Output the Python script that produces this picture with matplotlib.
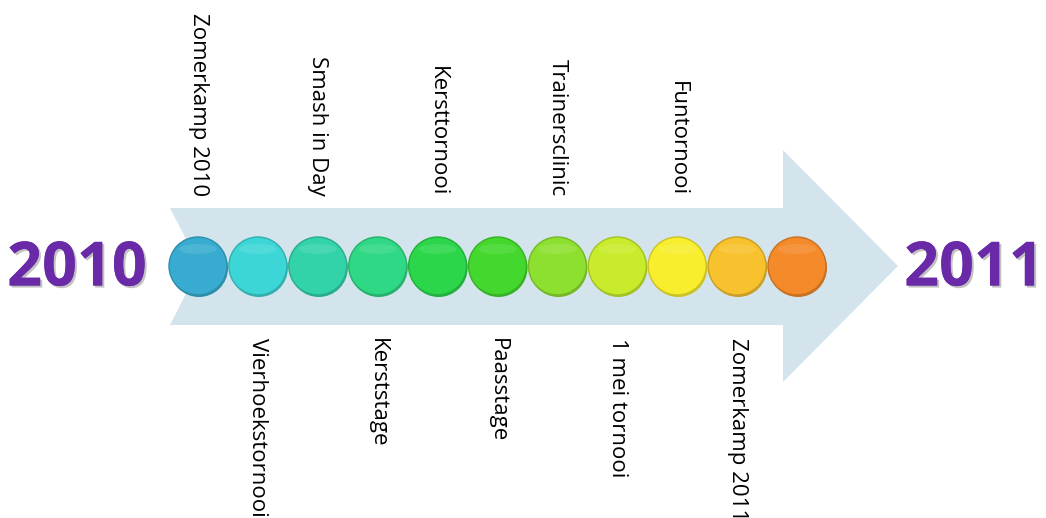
import matplotlib.pyplot as plt
import matplotlib.patheffects as pe
from matplotlib.patches import Polygon, Circle, Ellipse
import matplotlib.colors as mcolors

# =========================
# DATA
# =========================
events = ["Zomerkamp 2010", "Vierhoekstornooi", "Smash in Day", "Kerststage",
          "Kersttornooi", "Paasstage", "Trainersclinic", "1 mei tornooi",
          "Funtornooi", "Zomerkamp 2011", ""]
colors = ["#38acd0", "#3dd6d6", "#33d3aa", "#2fd884", "#2bd64a", "#44d82e",
          "#8ee030", "#c8ec2c", "#f8ee2e", "#f8c22e", "#f58a2a"]
start_year = "2010"
end_year = "2011"

# =========================
# LAYOUT
# =========================
W, H = 1046, 518
cy = 266
x0, step, r = 198, 59.9, 29

fig = plt.figure(figsize=(W / 100, H / 100), dpi=100)
ax = fig.add_axes([0, 0, 1, 1])
ax.set_xlim(0, W)
ax.set_ylim(H, 0)
ax.axis("off")

# arrow (notched tail)
arrow = Polygon([(170, 208), (783, 208), (783, 150), (898, cy), (783, 382),
                 (783, 325), (170, 325), (200, cy)],
                closed=True, facecolor="#d3e4ec", edgecolor="none")
ax.add_patch(arrow)

# circles
for i, (name, c) in enumerate(zip(events, colors)):
    x = x0 + i * step
    dark = [v * 0.82 for v in mcolors.to_rgb(c)]
    ax.add_patch(Circle((x + 1, cy + 2), r, facecolor=dark, edgecolor="none", zorder=2))
    ax.add_patch(Circle((x, cy), r, facecolor=c, edgecolor=dark, lw=1.0, zorder=3))
    light = [min(1, v * 0.6 + 0.4) for v in mcolors.to_rgb(c)]
    ax.add_patch(Ellipse((x, cy - 17), 2 * r * 0.65, 10, facecolor=light,
                         edgecolor="none", alpha=0.25, zorder=4))
    if not name:
        continue
    if i % 2 == 0:
        ax.text(x, 196, name, rotation=-90, ha="center", va="bottom",
                fontsize=16, family="Open Sans", color="black")
    else:
        ax.text(x, 338, name, rotation=-90, ha="center", va="top",
                fontsize=16, family="Open Sans", color="black")

# years
shadow = [pe.withSimplePatchShadow(offset=(1.5, -1.5), shadow_rgbFace="#999999", alpha=0.6),
          pe.Normal()]
ax.text(77, 270, start_year, ha="center", va="center", fontsize=44,
        fontweight="bold", family="Open Sans", color="#6a2aa8", path_effects=shadow)
ax.text(974, 270, end_year, ha="center", va="center", fontsize=44,
        fontweight="bold", family="Open Sans", color="#6a2aa8", path_effects=shadow)

plt.savefig("out.png", dpi=100)
